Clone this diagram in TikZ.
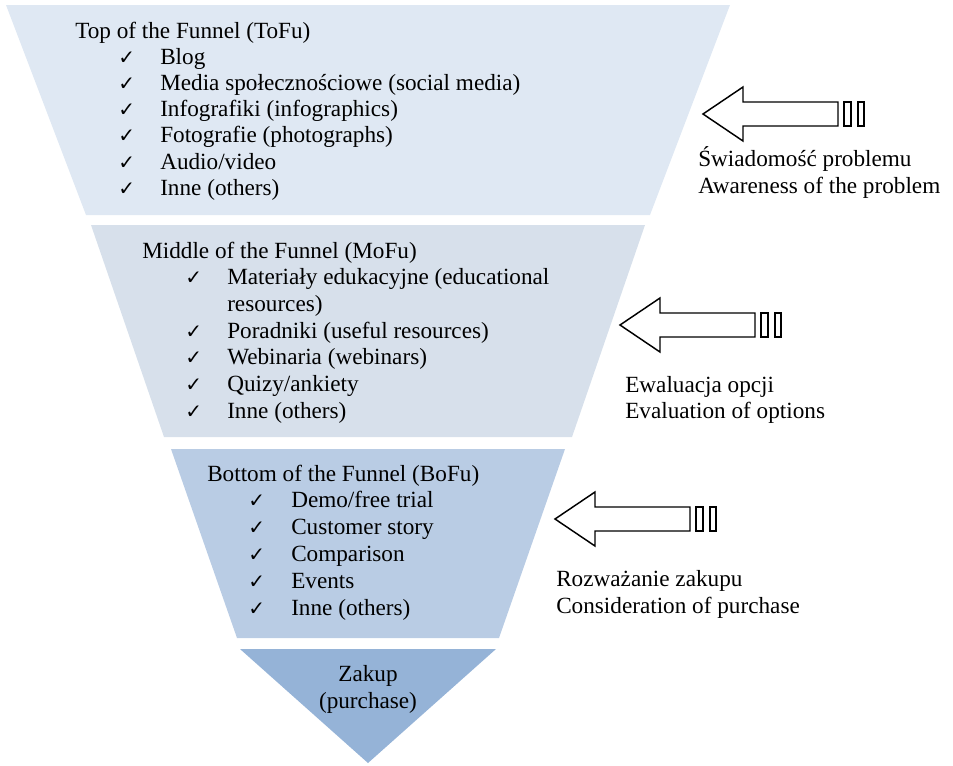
\documentclass[tikz,border=0pt]{standalone}
\usepackage{fontspec}
\setmainfont{Liberation Serif}
\newfontfamily\symfont{DejaVu Sans}[BoldFont=DejaVu Sans Bold]
\definecolor{cTop}{HTML}{DFE8F3}
\definecolor{cMid}{HTML}{D7E0EB}
\definecolor{cBot}{HTML}{B9CCE4}
\definecolor{cBuy}{HTML}{95B3D7}
\tikzset{
  txt/.style={anchor=base west, inner sep=0pt, font=\fontsize{17.4}{20}\selectfont},
  ctxt/.style={anchor=base, inner sep=0pt, font=\fontsize{17.4}{20}\selectfont},
  chk/.style={anchor=base west, inner sep=0pt, font=\symfont\bfseries\fontsize{15}{17}\selectfont},
  blk/.style={draw=black, line width=1.1pt, fill=white, line join=miter},
  larrow/.pic={
    \draw[blk] (0,0) -- (40,-27) -- (40,-12) -- (135,-12) -- (135,12) -- (40,12) -- (40,27) -- cycle;
    \draw[blk] (141,-12) rectangle (148,12);
    \draw[blk] (155,-12) rectangle (161,12);
  }
}
\begin{document}
\begin{tikzpicture}[x=0.75pt, y=-0.75pt]
\useasboundingbox (0,0) rectangle (953,765);
% funnel bands
\fill[cTop] (6,5) -- (730,5) -- (650,215) -- (86,215) -- cycle;
\fill[cMid] (91,225) -- (645,225) -- (572,437) -- (164,437) -- cycle;
\fill[cBot] (171,449) -- (565,449) -- (499,638) -- (237,638) -- cycle;
\fill[cBuy] (240,649) -- (496,649) -- (368,763) -- cycle;
% ToFu
\node[txt] (tofu) at (75,38) {Top of the Funnel (ToFu)};
\foreach \t [count=\i] in {Blog, Media społecznościowe (social media), Infografiki (infographics), Fotografie (photographs), Audio/video, Inne (others)} {
  \node[chk] (tofuc\i) at (118,38+26.2*\i) {✓};
  \node[txt] (tofu\i) at (160,38+26.2*\i) {\t};
}
% MoFu
\node[txt] (mofu) at (142,258) {Middle of the Funnel (MoFu)};
\node[chk] (mofuc1) at (185,284.7) {✓};
\node[txt] (mofu1) at (227,284.7) {Materiały edukacyjne (educational};
\node[txt] (mofu1b) at (227,311.4) {resources)};
\foreach \t [count=\i] in {Poradniki (useful resources), Webinaria (webinars), Quizy/ankiety, Inne (others)} {
  \node[chk] (mofuc\i) at (185,311.4+26.7*\i) {✓};
  \node[txt] (mofu\i) at (227,311.4+26.7*\i) {\t};
}
% BoFu
\node[txt] (bofu) at (207,481) {Bottom of the Funnel (BoFu)};
\foreach \t [count=\i] in {Demo/free trial, Customer story, Comparison, Events, Inne (others)} {
  \node[chk] (bofuc\i) at (248,481+26.8*\i) {✓};
  \node[txt] (bofu\i) at (291,481+26.8*\i) {\t};
}
% Purchase
\node[ctxt] (buy1) at (368,681) {Zakup};
\node[ctxt] (buy2) at (368,708) {(purchase)};
% arrows
\pic at (703,114) {larrow};
\pic at (620,325) {larrow};
\pic at (555,519) {larrow};
% labels
\node[txt] (l1a) at (698,166) {Świadomość problemu};
\node[txt] (l1b) at (698,193) {Awareness of the problem};
\node[txt] (l2a) at (625,392) {Ewaluacja opcji};
\node[txt] (l2b) at (625,418) {Evaluation of options};
\node[txt] (l3a) at (556,586) {Rozważanie zakupu};
\node[txt] (l3b) at (556,613) {Consideration of purchase};
\end{tikzpicture}
\end{document}
